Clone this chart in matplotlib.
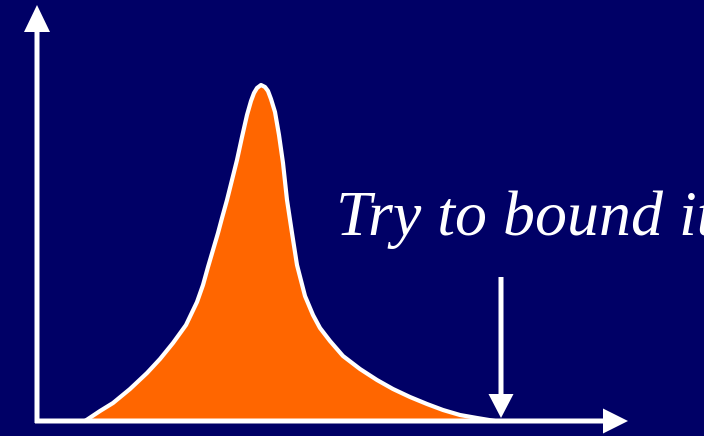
import numpy as np
import matplotlib
matplotlib.use("Agg")
import matplotlib.pyplot as plt

# curve outline (pixel units, y downwards)
curve_x = [85, 100, 113, 130, 147, 160, 173, 186, 197, 203, 208, 213, 218, 222,
           227, 232, 237, 242, 247, 251, 254, 257, 261,
           265, 268, 271, 275, 279, 283, 287, 292, 297, 305, 313, 320, 330,
           343, 360, 377, 393, 410, 427, 443, 460, 477, 495]
curve_y = [421, 411, 403, 389, 373, 359, 343, 325, 302, 285, 267, 250, 233, 218,
           200, 180, 160, 137, 115, 101, 93, 88, 85,
           87, 91, 99, 112, 135, 163, 200, 233, 265, 296, 315, 328, 341,
           356, 369, 380, 389, 397, 404, 410, 415, 418, 421]

baseline_y = 421
label = "Try to bound it"
bg = "#000066"
orange = "#FF6600"

fig = plt.figure(figsize=(7.04, 4.36), dpi=100)
fig.patch.set_facecolor(bg)
ax = fig.add_axes([0, 0, 1, 1])
ax.set_facecolor(bg)
ax.set_xlim(0, 704)
ax.set_ylim(436, 0)
ax.axis("off")

cx = np.asarray(curve_x)
cy = np.asarray(curve_y)
ax.fill_between(cx, cy, baseline_y, color=orange, lw=0, zorder=2)
ax.plot(cx, cy, color="white", lw=3, solid_capstyle="round",
        solid_joinstyle="round", zorder=3)

# axes arrows
ax.arrow(37, baseline_y + 2, 0, 5 - (baseline_y + 2), width=5, head_width=26,
         head_length=27, length_includes_head=True, color="white", lw=0, zorder=4)
ax.arrow(35, baseline_y, 628 - 35, 0, width=5, head_width=25,
         head_length=25, length_includes_head=True, color="white", lw=0, zorder=4)
# bound arrow
ax.arrow(501, 277, 0, 418 - 277, width=5, head_width=25,
         head_length=24, length_includes_head=True, color="white", lw=0, zorder=4)

# text runs off the right edge like in the original slide
ax.text(336, 235, label, fontsize=46, family="Liberation Serif", style="italic",
        color="white", ha="left", va="baseline", zorder=5)

fig.savefig("out.png", dpi=100, facecolor=bg)
